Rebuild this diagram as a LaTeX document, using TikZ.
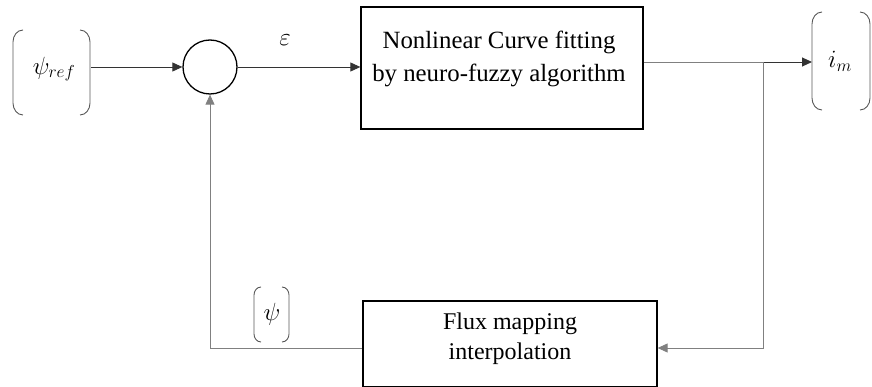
\documentclass[tikz,border=0pt]{standalone}
\usepackage{fontspec}
\setmainfont{Liberation Serif}
\usetikzlibrary{arrows.meta}
\begin{document}
\begin{tikzpicture}[x=1pt,y=-1pt,
  blk/.style={draw=black,line width=1.3pt,minimum width=#1,inner sep=0pt},
  txt/.style={inner sep=0pt,align=center,font=\fontsize{24.8}{33}\selectfont},
  sum/.style={draw=black,line width=1.3pt,circle,minimum size=54pt,inner sep=0pt},
  wire/.style={line width=0.9pt,draw=black!80},
  fb/.style={line width=0.9pt,draw=black!50},
  tip/.style={-{Triangle[length=10pt,width=9pt]}},
  brk/.style={line width=0.9pt,draw=black!65},
  lbl/.style={inner sep=0pt,font=\fontsize{25}{27}\selectfont}]
\useasboundingbox (0,0) rectangle (872,387);

% blocks
\node[blk=282pt,minimum height=122pt] (nf) at (502,68) {};
\node[txt] (nft) at (499,59) {Nonlinear Curve fitting\\by neuro-fuzzy algorithm};
\node[blk=294pt,minimum height=86pt] (fm) at (510,344) {};
\node[txt,font=\fontsize{24}{30}\selectfont] (fmt) at (510,339) {Flux mapping\\interpolation};
\node[sum] (s) at (210,67) {};

% signal labels
\node[lbl] (pref) at (54,69) {$\psi_{ref}$};
\node[lbl] (eps) at (285,40) {$\varepsilon$};
\node[lbl] (im) at (840,61) {$i_m$};
\node[lbl] (psi) at (272,314) {$\psi$};

% bracket delimiters around signal labels
\draw[brk] (23,30) to[out=180,in=90] (13,42) -- (13,103) to[out=-90,in=180] (23,115);
\draw[brk] (80,30) to[out=0,in=90] (90,42) -- (90,103) to[out=-90,in=0] (80,115);
\draw[brk] (822,12) to[out=180,in=90] (812,24) -- (812,98) to[out=-90,in=180] (822,110);
\draw[brk] (860,12) to[out=0,in=90] (870,24) -- (870,98) to[out=-90,in=0] (860,110);
\draw[brk] (261,287) to[out=180,in=90] (254,295) -- (254,334) to[out=-90,in=180] (261,342);
\draw[brk] (282,287) to[out=0,in=90] (289,295) -- (289,334) to[out=-90,in=0] (282,342);

% junction points
\coordinate (j) at (763,62);
\coordinate (jd) at (763,348);
\coordinate (out) at (812,62);
\coordinate (fbc) at (210,348);
\coordinate (in) at (91,67);

% forward path
\draw[wire,tip] (in) -- (s.west);
\draw[wire,tip] (s.east) -- (nf.west |- s.east);
\draw[fb] (nf.east |- j) -- (j);
\draw[wire,tip] (j) -- (out);
% feedback path
\draw[fb,tip] (j) -- (jd) -- (fm.east |- jd);
\draw[fb,tip] (fm.west |- fbc) -- (fbc) -- (s.south);
\end{tikzpicture}
\end{document}
